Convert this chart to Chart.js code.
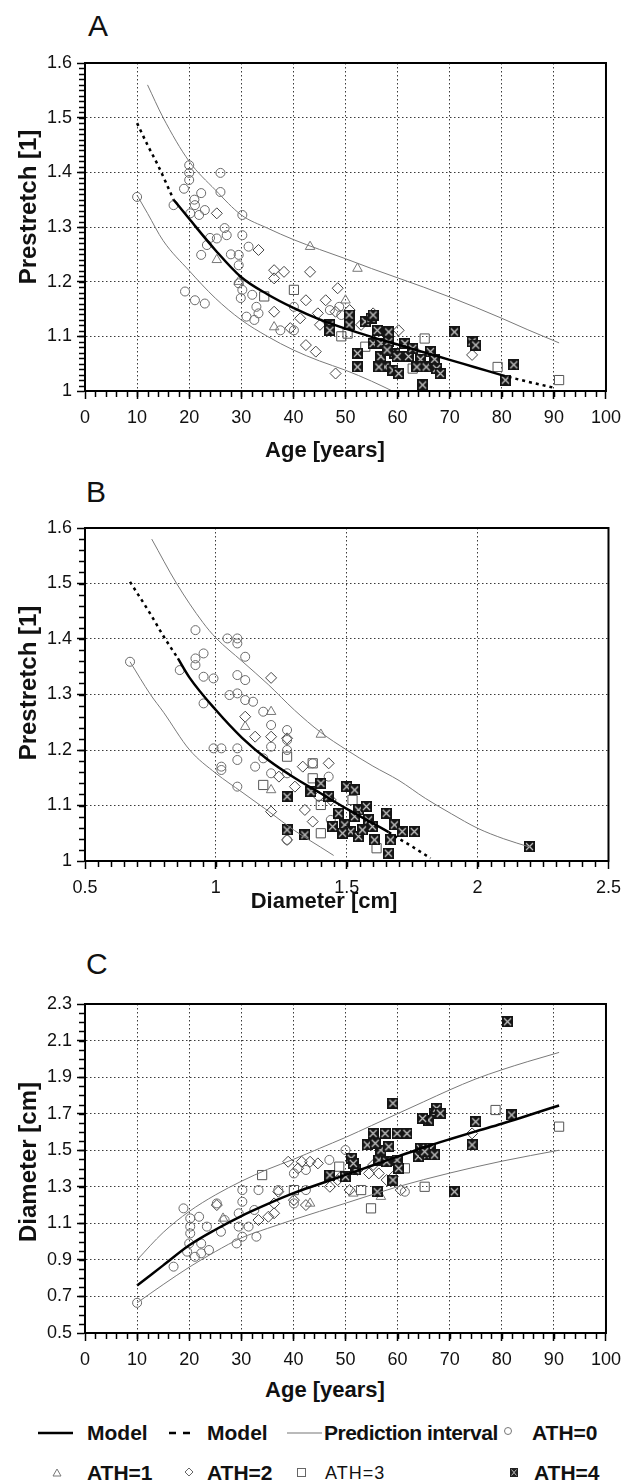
<!DOCTYPE html>
<html>
<head>
<meta charset="utf-8">
<script src="https://cdn.jsdelivr.net/npm/chart.js"></script>
<style>
  body { margin: 0; background: #fff; }
  #page { position: relative; width: 629px; height: 1481px; font-family: "Liberation Sans", Arial, sans-serif; color: #111; }
  canvas { position: absolute; left: 0; }
  .t { position: absolute; line-height: 1; white-space: nowrap; }
  .letter { font-size: 30px; }
  .xt { font-size: 22px; font-weight: bold; transform: translateX(-50%); }
  .yt { font-size: 24px; font-weight: bold; transform: translate(-50%, -50%) rotate(-90deg); }
  .lg { font-size: 21px; font-weight: bold; }
</style>
</head>
<body>
<div id="page">
  <div class="t letter" style="left:88px; top:11px">A</div>
  <div class="t letter" style="left:86px; top:477px">B</div>
  <div class="t letter" style="left:86px; top:949px">C</div>

  <canvas id="chartA" width="629" height="431" style="top:0"></canvas>
  <canvas id="chartB" width="629" height="441" style="top:460px"></canvas>
  <canvas id="chartC" width="629" height="433" style="top:940px"></canvas>

  <div class="t yt" style="left:28px; top:207px">Prestretch [1]</div>
  <div class="t xt" style="left:325px; top:439px">Age [years]</div>
  <div class="t yt" style="left:28px; top:683px">Prestretch [1]</div>
  <div class="t xt" style="left:324px; top:890px">Diameter [cm]</div>
  <div class="t yt" style="left:28px; top:1162px">Diameter [cm]</div>
  <div class="t xt" style="left:325px; top:1379px">Age [years]</div>

  <svg style="position:absolute; left:0; top:1400px" width="629" height="81">
    <line x1="38" y1="33" x2="73" y2="33" stroke="#000" stroke-width="2.5"/>
    <line x1="169" y1="33" x2="191" y2="33" stroke="#000" stroke-width="2.5" stroke-dasharray="7 7"/>
    <line x1="287" y1="33" x2="322" y2="33" stroke="#777" stroke-width="1.2"/>
    <circle cx="508" cy="31" r="3.5" fill="none" stroke="#777" stroke-width="1"/>
    <polygon points="57,69 53,76 61,76" fill="none" stroke="#777" stroke-width="1"/>
    <polygon points="189,68 193,72 189,76 185,72" fill="none" stroke="#666" stroke-width="1"/>
    <rect x="297.5" y="68.5" width="8" height="8" fill="none" stroke="#666" stroke-width="1"/>
    <rect x="510" y="68" width="8" height="9" fill="#222"/>
    <path d="M511.5 69.5 L516.5 75.5 M516.5 69.5 L511.5 75.5" stroke="#bbb" stroke-width="1"/>
  </svg>
  <div class="t lg" style="left:87px; top:1422px">Model</div>
  <div class="t lg" style="left:207px; top:1422px">Model</div>
  <div class="t lg" style="left:324px; top:1422px; letter-spacing:-0.5px">Prediction interval</div>
  <div class="t lg" style="left:532px; top:1422px">ATH=0</div>
  <div class="t lg" style="left:87px; top:1462px">ATH=1</div>
  <div class="t lg" style="left:207px; top:1462px">ATH=2</div>
  <div class="t" style="left:325px; top:1464px; font-size:18px; letter-spacing:1px">ATH=3</div>
  <div class="t lg" style="left:534px; top:1462px">ATH=4</div>
</div>

<script>
// ---- axis ranges / steps (major, minor) ----
const ageAxis = { min: 0, max: 100, major: 10, minor: 2 };
const stretchAxisA = { min: 1, max: 1.6, major: 0.1, minor: 0.01 };
const diamAxisB = { min: 0.5, max: 2.5, major: 0.5, minor: 0.05 };
const stretchAxisB = { min: 1, max: 1.6, major: 0.1, minor: 0.02 };
const diamAxisC = { min: 0.5, max: 2.3, major: 0.2, minor: 0.05 };

// ---- panel A: age vs prestretch ----
const aAth0 = [[10,1.355],[17,1.34],[19,1.37],[19.2,1.182],[20,1.413],[20,1.399],[20,1.386],[20.2,1.325],[21,1.35],[21.1,1.34],[21.1,1.166],[21.9,1.322],[22.3,1.362],[22.3,1.249],[23,1.331],[23,1.16],[23.4,1.267],[25.3,1.279],[26,1.399],[26,1.364],[26.8,1.298],[27.2,1.285],[29.5,1.249],[29.5,1.23],[29.5,1.197],[30.2,1.322],[30.2,1.285],[30.2,1.185],[29.9,1.17],[31.4,1.264],[32.1,1.176],[32.9,1.154],[33.3,1.142],[31,1.136],[32.5,1.13],[37.5,1.111],[40.1,1.111],[40.1,1.154],[47,1.148],[48.8,1.154],[49.2,1.139],[24,1.28],[28,1.25]];
const aAth1 = [[25.3,1.24],[29.5,1.2],[36.3,1.117],[43.2,1.264],[50,1.166],[52.3,1.224],[63.5,1.075]];
const aAth2 = [[25.3,1.325],[33.3,1.258],[36.3,1.221],[36.3,1.206],[38.2,1.218],[43.2,1.218],[36.3,1.145],[39.4,1.115],[41.3,1.133],[42.4,1.084],[44.3,1.072],[46.2,1.166],[48.1,1.145],[48.5,1.188],[44.7,1.142],[45.1,1.121],[50.8,1.148],[53,1.121],[55.3,1.142],[60.2,1.111],[74.3,1.066],[48.1,1.032],[42.4,1.166]];
const aAth3 = [[40.1,1.185],[34.4,1.173],[49.2,1.1],[50.4,1.105],[53.8,1.081],[65.2,1.096],[62.9,1.041],[79.2,1.044],[91,1.02]];
const aAth4 = [[50.7,1.139],[50.7,1.121],[47,1.121],[47,1.111],[53.8,1.127],[54.9,1.133],[55.3,1.139],[52.3,1.069],[52.3,1.044],[55.3,1.087],[56.8,1.087],[56.8,1.063],[57.6,1.044],[58.3,1.108],[58.3,1.09],[59.5,1.069],[59.1,1.038],[60.2,1.032],[61.4,1.087],[62.1,1.063],[62.9,1.078],[64.4,1.058],[65.5,1.044],[64.8,1.011],[66.3,1.072],[67.1,1.058],[67.5,1.041],[68.2,1.032],[70.9,1.108],[74.3,1.09],[75,1.084],[82.3,1.048],[80.7,1.02],[56.1,1.111],[59.9,1.063],[58,1.075],[56.4,1.044],[63.7,1.044]];
const aModelLead = [[10,1.49],[12,1.45],[14,1.413],[17,1.35]];
const aModel = [[17,1.35],[20,1.315],[25,1.258],[30,1.208],[35,1.177],[40,1.152],[45,1.131],[50,1.114],[55,1.099],[60,1.085],[65,1.071],[70,1.057],[75,1.043],[80,1.029]];
const aModelTail = [[80,1.029],[85,1.017],[90,1.006]];
const aUpper = [[12,1.56],[15,1.5],[20,1.42],[25,1.368],[30,1.322],[35,1.298],[40,1.277],[45,1.259],[50,1.242],[55,1.224],[60,1.207],[65,1.19],[70,1.172],[75,1.153],[80,1.133],[85,1.112],[91,1.088]];
const aLower = [[10,1.358],[12,1.325],[15,1.275],[20,1.22],[25,1.17],[30,1.13],[35,1.1],[40,1.075],[45,1.055],[50,1.038],[55,1.018],[59,1.0]];

// ---- panel B: diameter vs prestretch ----
const bAth0 = [[0.672,1.359],[0.862,1.344],[0.922,1.416],[0.922,1.365],[0.922,1.353],[0.953,1.374],[1.044,1.401],[1.082,1.401],[1.082,1.392],[1.112,1.368],[1.082,1.335],[1.112,1.326],[0.953,1.332],[0.991,1.329],[0.953,1.284],[1.052,1.299],[1.082,1.302],[1.112,1.29],[1.142,1.287],[1.181,1.269],[1.211,1.245],[1.272,1.236],[1.272,1.218],[1.272,1.2],[0.991,1.203],[1.021,1.203],[1.082,1.203],[1.082,1.182],[1.021,1.17],[1.021,1.164],[1.15,1.17],[1.181,1.185],[1.211,1.158],[1.082,1.134],[1.211,1.206],[1.431,1.152],[1.37,1.176],[1.272,1.158],[1.439,1.074],[1.272,1.038]];
const bAth1 = [[1.211,1.269],[1.112,1.242],[1.401,1.228],[1.211,1.128]];
const bAth2 = [[1.211,1.33],[1.112,1.26],[1.15,1.224],[1.211,1.224],[1.272,1.221],[1.241,1.152],[1.302,1.134],[1.211,1.089],[1.34,1.092],[1.37,1.071],[1.431,1.176],[1.272,1.038],[1.439,1.11],[1.332,1.17],[1.393,1.116]];
const bAth3 = [[1.272,1.188],[1.181,1.137],[1.37,1.176],[1.37,1.149],[1.401,1.101],[1.401,1.05],[1.522,1.11],[1.614,1.023]];
const bAth4 = [[1.272,1.056],[1.34,1.047],[1.272,1.116],[1.401,1.14],[1.431,1.116],[1.363,1.125],[1.5,1.134],[1.53,1.128],[1.469,1.086],[1.492,1.065],[1.515,1.053],[1.545,1.092],[1.575,1.098],[1.583,1.074],[1.598,1.062],[1.545,1.044],[1.484,1.05],[1.446,1.062],[1.606,1.038],[1.651,1.086],[1.682,1.065],[1.667,1.038],[1.712,1.053],[1.758,1.053],[1.659,1.014],[2.198,1.026],[1.53,1.08],[1.56,1.056]];
const bModelLead = [[0.672,1.503],[0.75,1.445],[0.8,1.405],[0.855,1.365]];
const bModel = [[0.855,1.365],[0.9,1.33],[1.0,1.272],[1.1,1.222],[1.2,1.182],[1.3,1.15],[1.4,1.122],[1.5,1.094],[1.6,1.068],[1.66,1.052]];
const bModelTail = [[1.66,1.052],[1.7,1.04],[1.75,1.026],[1.82,1.005]];
const bUpper = [[0.755,1.58],[0.85,1.5],[0.95,1.43],[1.0,1.402],[1.1,1.36],[1.2,1.318],[1.3,1.272],[1.4,1.232],[1.5,1.2],[1.6,1.171],[1.7,1.145],[1.8,1.113],[1.9,1.085],[2.0,1.059],[2.1,1.04],[2.2,1.025]];
const bLower = [[0.672,1.359],[0.75,1.3],[0.8,1.268],[0.9,1.2],[1.0,1.158],[1.1,1.124],[1.2,1.09],[1.3,1.055],[1.4,1.025],[1.45,1.01]];

// ---- panel C: age vs diameter ----
const cAth0 = [[10,0.665],[17,0.863],[18.9,1.182],[20.2,1.127],[20.2,1.082],[20.2,1.045],[20,0.99],[19.6,0.945],[21.1,0.917],[22.3,0.936],[21.9,1.136],[23.4,1.082],[22.3,0.99],[23.8,0.954],[25.3,1.209],[26.1,1.054],[26.8,1.118],[29.1,0.99],[29.5,1.082],[30.2,1.282],[30.2,1.218],[30.2,1.027],[31.4,1.082],[32.9,1.027],[32.5,1.173],[33.3,1.282],[37.1,1.282],[40.1,1.373],[42.4,1.392],[40.1,1.209],[42.4,1.282],[46.9,1.447],[50,1.501],[49.2,1.355],[61.4,1.273],[29.5,1.155]];
const cAth1 = [[26.5,1.127],[43.2,1.209],[51.5,1.264],[56.8,1.246]];
const cAth2 = [[25.3,1.2],[39,1.437],[41.6,1.437],[43.2,1.437],[44.7,1.428],[40.9,1.401],[40.1,1.227],[37.1,1.273],[36.3,1.209],[36.3,1.155],[33.3,1.118],[35.2,1.136],[50.8,1.282],[48.5,1.337],[52.3,1.392],[55.3,1.419],[56.4,1.373],[57.9,1.337],[59.1,1.355],[54.5,1.373],[74.3,1.592],[42.4,1.2],[47,1.3],[60.6,1.282]];
const cAth3 = [[34,1.364],[40.1,1.282],[48.8,1.41],[53,1.282],[54.9,1.182],[61.4,1.401],[65.2,1.3],[78.8,1.72],[91,1.629],[55.7,1.547]];
const cAth4 = [[59.1,1.757],[67.1,1.702],[65.9,1.665],[64.8,1.674],[67.5,1.729],[68.2,1.702],[81.1,2.203],[81.9,1.693],[75,1.656],[74.3,1.529],[70.9,1.273],[56.1,1.273],[59.1,1.337],[51.1,1.456],[51.9,1.392],[50,1.355],[47,1.364],[54.2,1.529],[55.3,1.592],[56.8,1.501],[56.4,1.446],[57.9,1.437],[58.3,1.519],[59.9,1.446],[60.2,1.401],[59.9,1.592],[61.8,1.592],[64.4,1.51],[65.6,1.474],[66.3,1.51],[67.1,1.474],[64,1.465],[65.2,1.492],[51.5,1.428],[57.6,1.592],[55.7,1.538]];
const cModel = [[10,0.76],[15,0.87],[20,0.98],[25,1.065],[30,1.14],[35,1.205],[40,1.265],[45,1.315],[50,1.365],[55,1.415],[60,1.465],[65,1.515],[70,1.56],[75,1.603],[80,1.645],[85,1.69],[91,1.745]];
const cUpper = [[10,0.9],[15,1.05],[20,1.165],[25,1.255],[30,1.33],[35,1.395],[40,1.45],[45,1.51],[50,1.57],[55,1.635],[60,1.7],[65,1.765],[70,1.83],[75,1.89],[80,1.94],[85,1.985],[91,2.035]];
const cLower = [[10,0.665],[15,0.765],[20,0.86],[25,0.945],[30,1.02],[35,1.072],[40,1.12],[50,1.21],[60,1.3],[70,1.375],[80,1.44],[91,1.5]];

// minor tick spacing per chart, read by the plugin below
const minorSteps = {
  chartA: [ageAxis, stretchAxisA],
  chartB: [diamAxisB, stretchAxisB],
  chartC: [ageAxis, diamAxisC]
};

// black box with a light cross, used for ATH=4
function crossBox() {
  const c = document.createElement('canvas');
  c.width = 11; c.height = 11;
  const g = c.getContext('2d');
  g.fillStyle = '#151515';
  g.fillRect(0, 0, 11, 11);
  g.strokeStyle = '#c8c8c8';
  g.lineWidth = 1.2;
  g.beginPath();
  g.moveTo(2, 2); g.lineTo(9, 9);
  g.moveTo(9, 2); g.lineTo(2, 9);
  g.stroke();
  return c;
}
const boxImg = crossBox();

function points(data, kind) {
  const styles = [
    { pointStyle: 'circle', pointRadius: 4.5, pointBorderColor: '#6a6a6a' },
    { pointStyle: 'triangle', pointRadius: 5.5, pointBorderColor: '#777' },
    { pointStyle: 'rectRot', pointRadius: 5.5, pointBorderColor: '#444' },
    { pointStyle: 'rect', pointRadius: 6.5, pointBorderColor: '#555' },
    { pointStyle: boxImg, pointRadius: 5.5 }
  ];
  return Object.assign({
    data: data,
    showLine: false,
    pointBackgroundColor: 'rgba(0,0,0,0)',
    pointBorderWidth: 1,
    order: kind === 4 ? 1 : 2
  }, styles[kind]);
}

function curve(data, kind) {
  const ds = {
    data: data,
    showLine: true,
    pointRadius: 0,
    cubicInterpolationMode: 'monotone',
    order: 0,
    borderColor: '#000',
    borderWidth: 2.5
  };
  if (kind === 'dash') ds.borderDash = [3, 4];
  if (kind === 'pi') { ds.borderColor = '#7a7a7a'; ds.borderWidth = 1; }
  return ds;
}

function axis(r, isX) {
  const inner = v => Math.abs(v - r.min) > 1e-6 && Math.abs(v - r.max) > 1e-6;
  return {
    type: 'linear',
    min: r.min,
    max: r.max,
    afterFit: s => { if (isX) s.height = 40; else s.width = 85; },
    border: { display: true, color: '#000', width: 2, dash: [1.5, 2.5] },
    grid: {
      color: c => (c.tick && inner(c.tick.value)) ? '#3a3a3a' : 'rgba(0,0,0,0)',
      lineWidth: 1,
      tickLength: 8,
      tickColor: '#000',
      tickWidth: 1.5
    },
    ticks: {
      stepSize: r.major,
      autoSkip: false,
      maxRotation: 0,
      padding: isX ? 8 : 5,
      color: '#111',
      font: { family: 'Liberation Sans', size: 18 },
      callback: v => String(+v.toFixed(2))
    }
  };
}

// short minor tick marks between the labelled ones, placed with the scales
const minorTicks = {
  id: 'minorTicks',
  afterDraw(chart) {
    const { ctx, chartArea: a } = chart;
    const ranges = minorSteps[chart.canvas.id];
    ctx.save();
    ctx.strokeStyle = '#000';
    ctx.lineWidth = 1.5;
    ['x', 'y'].forEach((k, j) => {
      const s = chart.scales[k];
      const r = ranges[j];
      const n = Math.round((r.max - r.min) / r.minor);
      for (let i = 1; i < n; i++) {
        const p = Math.round(s.getPixelForValue(r.min + i * r.minor)) + 0.5;
        ctx.beginPath();
        if (k === 'x') { ctx.moveTo(p, a.bottom); ctx.lineTo(p, a.bottom + 6); }
        else { ctx.moveTo(a.left, p); ctx.lineTo(a.left - 6, p); }
        ctx.stroke();
      }
    });
    ctx.lineWidth = 2;
    ctx.strokeRect(a.left, a.top, a.right - a.left, a.bottom - a.top);
    ctx.restore();
  }
};

function panel(id, padTop, datasets) {
  const [xr, yr] = minorSteps[id];
  new Chart(document.getElementById(id), {
    type: 'scatter',
    data: { datasets: datasets },
    options: {
      responsive: false,
      animation: false,
      events: [],
      layout: { padding: { top: padTop, right: 15, bottom: 0, left: 0 } },
      plugins: { legend: { display: false }, tooltip: { enabled: false } },
      scales: { x: axis(xr, true), y: axis(yr, false) }
    },
    plugins: [minorTicks]
  });
}

panel('chartA', 63, [
  curve(aModelLead, 'dash'), curve(aModel, 'solid'), curve(aModelTail, 'dash'),
  curve(aUpper, 'pi'), curve(aLower, 'pi'),
  points(aAth0, 0), points(aAth1, 1), points(aAth2, 2), points(aAth3, 3), points(aAth4, 4)
]);

panel('chartB', 68, [
  curve(bModelLead, 'dash'), curve(bModel, 'solid'), curve(bModelTail, 'dash'),
  curve(bUpper, 'pi'), curve(bLower, 'pi'),
  points(bAth0, 0), points(bAth1, 1), points(bAth2, 2), points(bAth3, 3), points(bAth4, 4)
]);

panel('chartC', 64, [
  curve(cModel, 'solid'), curve(cUpper, 'pi'), curve(cLower, 'pi'),
  points(cAth0, 0), points(cAth1, 1), points(cAth2, 2), points(cAth3, 3), points(cAth4, 4)
]);
</script>
</body>
</html>
